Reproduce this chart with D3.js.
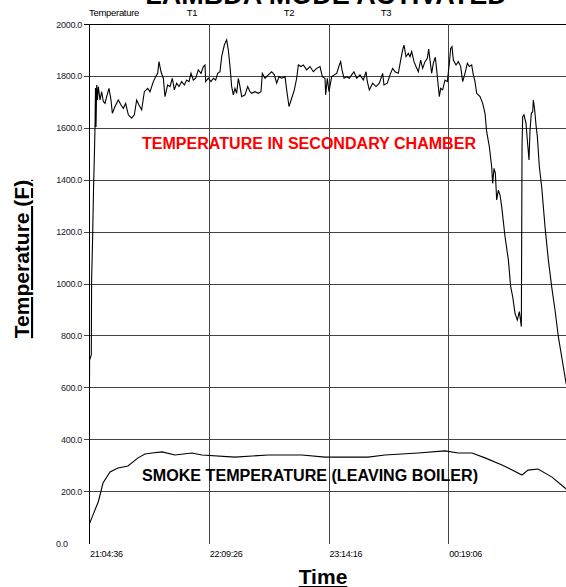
<!DOCTYPE html>
<html><head><meta charset="utf-8">
<script src="https://cdn.jsdelivr.net/npm/d3@7"></script>
<style>
html,body{margin:0;padding:0;background:#fff;overflow:hidden;}
svg{display:block;font-family:"Liberation Sans",Arial,sans-serif;}
</style></head>
<body>
<svg id="chart" width="566" height="587"></svg>
<script>
const chartTitle = "LAMBDA MODE ACTIVATED";
const xTitle = "Time";
const yTitle = "Temperature (F)";
const topLabels = ["Temperature", "T1", "T2", "T3"];
const topLabelMinutes = [null, 55.8, 108.3, 160.8];
const xTickLabels = ["21:04:36", "22:09:26", "23:14:16", "00:19:06", "01:23:56"];
const yTickValues = [0, 200, 400, 600, 800, 1000, 1200, 1400, 1600, 1800, 2000];
const seriesNames = ["TEMPERATURE IN SECONDARY CHAMBER", "SMOKE TEMPERATURE (LEAVING BOILER)"];

// minutes elapsed since 21:04:36, temperature (F)
const secMinutes = [0,0.32,1.25,1.41,1.9,2.44,2.98,3.25,3.52,3.79,4.17,4.6,5.05,5.96,6.86,7.76,8.66,9.57,10.83,11.91,12.63,14.08,15.88,17.33,18.59,19.85,21.29,23.1,24.54,25.81,27.07,28.52,29.96,31.76,33.03,34.83,36.1,37.18,37.9,38.98,40.24,41.15,42.59,43.85,45.11,46.2,47.46,48.73,50.17,51.61,52.88,54.14,55.22,56.49,57.75,59.19,60.64,61.9,62.8,63.17,64.61,66.05,67.31,68.58,69.66,70.92,71.83,73.27,74.53,75.43,76.34,77.24,78.14,79.04,79.95,80.85,81.75,82.66,84.46,85.91,87.17,88.07,89.87,91.68,93.12,93.84,95.29,97.09,98.9,100.34,101.6,102.87,104.31,106.12,107.02,108.28,109.73,111.17,112.43,113.34,114.78,116.04,117.85,119.65,121.46,123.26,125.06,126.33,127.77,128.13,129.03,129.94,131.38,132.82,134.1,135.54,136.26,136.98,138.06,139.51,140.95,142.21,143.47,144.92,146.72,148.53,149.97,150.69,151.77,153.58,155.38,157.19,159,159.71,161.52,162.96,164.41,165.67,167.48,168.74,169.82,170.54,171.63,172.89,173.79,174.69,175.96,177.04,178.3,179.57,180.65,181.91,183.18,183.9,184.62,185.52,186.42,187.5,188.23,189.13,189.67,190.4,191.48,192.74,194.01,195.09,195.81,196.53,197.26,198.7,199.96,201.23,202.31,203.57,204.84,205.92,207.18,208.08,208.99,209.89,211.7,213.14,214.4,215.3,216.75,218.01,218.55,219.27,220,220.72,221.62,222.53,223.43,225.23,227.04,228.3,229.39,230.65,231.91,233,234.08,234.44,234.8,235.52,236.6,237.32,238.22,238.77,239.49,240.21,240.57,241.29,242.01,242.74,243.82,245.08,246.88,248.69,250.49,252.3,254.1,258.26,259.3];
const secTemps = [139,705,725,1014,1156,1360,1515,1603,1753,1603,1765,1707,1759,1707,1739,1701,1694,1720,1752,1707,1656,1682,1707,1688,1675,1694,1650,1637,1650,1707,1688,1669,1739,1752,1739,1778,1797,1810,1855,1816,1791,1720,1765,1759,1791,1746,1772,1759,1778,1765,1784,1778,1810,1784,1791,1823,1810,1836,1842,1778,1791,1778,1791,1784,1810,1816,1874,1919,1939,1900,1836,1759,1727,1752,1733,1791,1759,1720,1727,1759,1739,1733,1739,1733,1739,1810,1791,1804,1816,1804,1772,1797,1791,1797,1746,1682,1714,1746,1791,1842,1836,1842,1823,1836,1816,1829,1836,1797,1791,1727,1791,1739,1797,1804,1810,1842,1855,1823,1791,1797,1791,1804,1816,1791,1804,1784,1816,1778,1746,1772,1759,1772,1810,1765,1772,1804,1829,1816,1810,1861,1900,1919,1874,1887,1874,1894,1855,1836,1816,1861,1829,1855,1868,1903,1861,1810,1849,1872,1823,1759,1720,1752,1746,1784,1778,1849,1906,1913,1861,1842,1855,1836,1778,1810,1849,1836,1842,1804,1778,1733,1720,1694,1656,1585,1527,1450,1386,1444,1425,1322,1360,1341,1296,1181,1091,988,949,885,859,892,834,1527,1643,1650,1617,1553,1476,1592,1656,1662,1707,1669,1611,1566,1450,1373,1219,1091,988,898,795,617,590];

const smokeMinutes = [0,1.46,5.04,7.58,11.37,15.7,21.11,26.53,30.32,34.11,39.52,46.56,55.76,61.18,79.04,96.91,115.32,127.77,142.39,151.05,160.25,178.12,192.74,199.78,207.36,214.4,223.61,234.44,237.68,243.1,250.68,257.72,259.3];
const smokeTemps = [69,96,159,231,274,289,297,328,343,347,351,339,347,339,331,339,339,331,331,331,339,347,355,347,347,328,301,262,281,285,254,212,200];

const svg = d3.select("#chart");
const start = new Date(2000, 0, 1, 21, 4, 36);
const end = new Date(2000, 0, 2, 1, 23, 56);
const atMin = m => new Date(start.getTime() + m * 60000);
const tickDates = [0, 64.8333, 129.6667, 194.5, 259.3333].map(atMin);

const x = d3.scaleTime().domain([start, end]).range([89, 568]);
const y = d3.scaleLinear().domain([0, 2000]).range([543, 24]);

svg.append("defs").append("clipPath").attr("id", "clip")
  .append("rect").attr("x", 89).attr("y", 24).attr("width", 480).attr("height", 520);

// horizontal gridlines
svg.append("g").selectAll("line").data(yTickValues.filter(v => v > 0)).join("line")
  .attr("x1", 84).attr("x2", 568)
  .attr("y1", d => Math.round(y(d)) + 0.5).attr("y2", d => Math.round(y(d)) + 0.5)
  .attr("stroke", d => d === 2000 ? "#000" : "#444").attr("stroke-width", 1);

// vertical gridlines (x ticks)
svg.append("g").selectAll("line").data(tickDates).join("line")
  .attr("x1", d => Math.round(x(d)) + 0.5).attr("x2", d => Math.round(x(d)) + 0.5)
  .attr("y1", 24).attr("y2", 544)
  .attr("stroke", (d, i) => i === 0 ? "#000" : "#444").attr("stroke-width", 1);

// y tick labels
svg.append("g").selectAll("text").data(yTickValues).join("text")
  .attr("x", d => d === 0 ? 56 : 82)
  .attr("y", d => y(d) + 3.5)
  .attr("text-anchor", d => d === 0 ? "start" : "end")
  .attr("font-size", 9).attr("fill", "#1a1a2a")
  .attr("letter-spacing", -0.3)
  .text(d => d.toFixed(1));

// x tick labels
svg.append("g").selectAll("text").data(tickDates).join("text")
  .attr("x", (d, i) => x(d) + 1)
  .attr("y", 557)
  .attr("font-size", 9).attr("fill", "#000")
  .attr("letter-spacing", -0.3)
  .text((d, i) => xTickLabels[i]);

// top labels
svg.append("g").selectAll("text").data(topLabels).join("text")
  .attr("x", (d, i) => i === 0 ? 89 : x(atMin(topLabelMinutes[i])))
  .attr("y", 16)
  .attr("text-anchor", (d, i) => i === 0 ? "start" : "middle")
  .attr("font-size", 9.5).attr("fill", "#000")
  .attr("letter-spacing", -0.3)
  .text(d => d);

// lines
const line = d3.line().x(d => x(atMin(d[0]))).y(d => y(d[1]));
const plot = svg.append("g").attr("clip-path", "url(#clip)");
plot.append("path").datum(secMinutes.map((m, i) => [m, secTemps[i]]))
  .attr("d", line).attr("fill", "none").attr("stroke", "#000").attr("stroke-width", 1.1);
plot.append("path").datum(smokeMinutes.map((m, i) => [m, smokeTemps[i]]))
  .attr("d", line).attr("fill", "none").attr("stroke", "#000").attr("stroke-width", 1.1);

// series annotations
svg.append("text").attr("x", 142).attr("y", 149)
  .attr("font-size", 16).attr("font-weight", "bold").attr("fill", "#ff0000")
  .attr("textLength", 334).attr("lengthAdjust", "spacingAndGlyphs")
  .text(seriesNames[0]);
svg.append("text").attr("x", 142).attr("y", 481)
  .attr("font-size", 16).attr("font-weight", "bold").attr("fill", "#000")
  .attr("textLength", 336).attr("lengthAdjust", "spacingAndGlyphs")
  .text(seriesNames[1]);

// title (mostly cut off at top)
svg.append("text").attr("x", 326).attr("y", 3.5)
  .attr("text-anchor", "middle").attr("font-size", 27).attr("font-weight", "bold")
  .text(chartTitle);

// axis titles
svg.append("text").attr("x", 323).attr("y", 584)
  .attr("text-anchor", "middle").attr("font-size", 21).attr("font-weight", "bold")
  .attr("text-decoration", "underline")
  .text(xTitle);
svg.append("text").attr("transform", "translate(29,259) rotate(-90)")
  .attr("text-anchor", "middle").attr("font-size", 21).attr("font-weight", "bold")
  .attr("text-decoration", "underline")
  .text(yTitle);
</script>
</body></html>
